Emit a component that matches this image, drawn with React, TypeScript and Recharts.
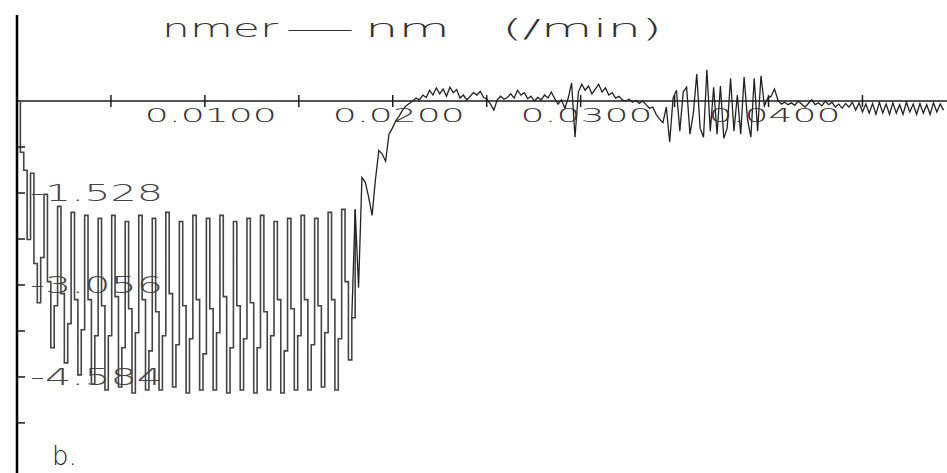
import React from 'react';
import { LineChart, Line, XAxis, YAxis, ReferenceLine, ReferenceDot } from 'recharts';

// trace is sampled at a fixed interval (s)
const SAMPLE_DT = 0.00018;

// start-up: first drop and growing oscillation
const onsetValues = [
  0, -0.85, -1.15, -2.3, -1.2, -2.7, -3.35, -2.6,
  -1.55, -3.0, -4.1, -3.4, -1.75, -3.2, -4.35, -3.7,
  -1.85, -3.3, -4.55, -3.8, -1.9, -3.3, -4.7, -3.9,
];

// steady limit cycle (top, step down, bottom, step up)
const cycleValues = [
  -1.95, -3.4, -4.8, -3.9,
  -1.9, -3.25, -4.75, -4.1,
  -2.0, -3.45, -4.85, -3.85,
  -1.9, -3.3, -4.8, -4.15,
  -1.95, -3.5, -4.8, -3.9,
  -1.85, -3.2, -4.75, -4.05,
  -2.0, -3.4, -4.85, -3.95,
  -1.9, -3.3, -4.8, -4.2,
  -1.95, -3.45, -4.8, -3.85,
  -1.9, -3.25, -4.85, -4.1,
  -2.0, -3.4, -4.8, -3.95,
  -1.95, -3.35, -4.85, -4.1,
  -1.9, -3.5, -4.8, -3.9,
  -2.0, -3.3, -4.85, -4.15,
  -1.95, -3.45, -4.8, -3.9,
  -1.9, -3.3, -4.8, -4.05,
  -1.95, -3.4, -4.75, -3.85,
  -1.85, -3.3, -4.8, -3.95,
  -1.8, -3.0, -4.3, -3.6,
];

// climb back to zero
const recoveryValues = [
  -1.8, -3.1, -1.27, -1.35, -1.6, -1.9, -1.3, -0.82, -0.88,
  -1.0, -0.55, -0.45, -0.33, -0.25, -0.15, -0.08, -0.04, 0.0,
];

// small noise around zero
const settleValues = [
  0.05, 0.02, 0.1, 0.06, 0.18, 0.1, 0.22, 0.12, 0.2, 0.08,
  0.23, 0.14, 0.19, 0.05, 0.1, 0.02, 0.08, 0.14, 0.1, 0.16,
  0.06, 0.03, -0.05, -0.15, 0.02, 0.08, 0.03, 0.06, 0.12, 0.05,
  0.18, 0.1, 0.14, 0.04, 0.08, 0.0, 0.06, 0.02, 0.1, 0.05,
  0.15, 0.04, -0.05, 0.02, -0.12, 0.05, 0.3, -0.6, 0.15, 0.28,
  0.18, 0.25, 0.12, 0.2, 0.28, 0.15, 0.22, 0.1, 0.14, 0.05,
  0.08, 0.02, 0.0, 0.03, -0.02, 0.01, -0.04, 0.0, -0.06, -0.12,
  -0.1, -0.22, -0.3, -0.36,
];

// second burst
const burstValues = [
  -0.1, -0.68, 0.05, 0.18, -0.5, 0.15, 0.23, -0.55, -0.2, 0.45,
  -0.45, -0.6, 0.52, -0.5, 0.23, -0.55, 0.25, -0.62, -0.45, 0.38,
  -0.5, 0.1, -0.55, 0.4, -0.3, -0.6, 0.38, -0.5, 0.42, -0.08,
];

// tail ripple
const tailValues = [
  0.05, 0.08, 0.2, 0.02, -0.05, -0.02, -0.06, -0.03, -0.07, 0.0,
  -0.05, -0.1, -0.04, 0.02, -0.06, -0.03, -0.08, 0.0, -0.06, -0.02,
  -0.1, -0.05, -0.12, -0.04, -0.1, -0.02, -0.15, -0.03, -0.18, -0.05,
  -0.2, -0.04, -0.22, -0.02, -0.2, -0.05, -0.22, -0.03, -0.2, -0.06,
  -0.22, -0.02, -0.18, -0.05, -0.22, -0.04, -0.2, -0.06, -0.22, -0.03,
  -0.18, -0.05, -0.15,
];

const xTickValues = [0.005, 0.01, 0.015, 0.02, 0.025, 0.03, 0.035, 0.04, 0.045];
const xLabelValues = [0.01, 0.02, 0.03, 0.04];
const yTickValues = [-0.764, -1.528, -2.292, -3.056, -3.82, -4.584, -5.348];
const yLabelValues = [-1.528, -3.056, -4.584];

const stepped = [...onsetValues, ...cycleValues];
const allValues = [...stepped, ...recoveryValues, ...settleValues, ...burstValues, ...tailValues];

const data = allValues.map((v, k) => ({
  t: k * SAMPLE_DT,
  cycle: k <= stepped.length ? v : null,
  rest: k >= stepped.length - 1 ? v : null,
}));

const ink = '#1a1a1a';

const YTick = (props: any) => {
  const { x, y, payload } = props;
  const major = yLabelValues.includes(payload.value);
  return (
    <g>
      <line x1={x} x2={x + 8} y1={y} y2={y} stroke={ink} strokeWidth={1.5} />
      {major && (
        <text
          x={x + 13}
          y={y + 8}
          fontFamily="DejaVu Sans"
          fontWeight={200}
          fontSize={23}
          fill="#444"
          textLength={133}
          lengthAdjust="spacingAndGlyphs"
        >
          {payload.value.toFixed(3)}
        </text>
      )}
    </g>
  );
};

const XTick = ({ cx, cy, value }: any) => (
  <g>
    <line x1={cx} x2={cx} y1={cy - 6} y2={cy + 6} stroke={ink} strokeWidth={1.5} />
    {xLabelValues.includes(value) && (
      <text
        x={cx - 60}
        y={cy + 21}
        fontFamily="DejaVu Sans"
        fontWeight={200}
        fontSize={19}
        fill="#333"
        textLength={132}
        lengthAdjust="spacingAndGlyphs"
      >
        {value.toFixed(4)}
      </text>
    )}
  </g>
);

export default function App() {
  return (
    <div style={{ position: 'absolute', left: 0, top: 0, width: 947, height: 473, background: '#fff' }}>
      <LineChart width={947} height={473} data={data} margin={{ top: 15, right: 0, left: 15, bottom: 0 }}>
        <XAxis dataKey="t" type="number" domain={[0, 0.0495]} hide allowDataOverflow />
        <YAxis
          type="number"
          domain={[-6.18, 1.43]}
          allowDataOverflow
          width={2}
          ticks={yTickValues}
          interval={0}
          tickSize={0}
          tickMargin={0}
          tickLine={false}
          axisLine={{ stroke: '#000', strokeWidth: 2.5 }}
          tick={<YTick />}
        />
        <ReferenceLine y={0} stroke={ink} strokeWidth={1.6} />
        {xTickValues.map((v) => (
          <ReferenceDot key={v} x={v} y={0} r={0} shape={(p: any) => <XTick {...p} value={v} />} />
        ))}
        <Line
          type="stepAfter"
          dataKey="cycle"
          stroke="#444"
          strokeWidth={1.6}
          dot={false}
          isAnimationActive={false}
        />
        <Line
          type="linear"
          dataKey="rest"
          stroke="#222"
          strokeWidth={1.3}
          dot={false}
          isAnimationActive={false}
        />
      </LineChart>
      <svg width={947} height={473} style={{ position: 'absolute', left: 0, top: 0, pointerEvents: 'none' }}>
        <text fontFamily="DejaVu Sans" fontWeight={200} fontSize={24} fill="#333" y={37}>
          <tspan x={162} textLength={116} lengthAdjust="spacingAndGlyphs">nmer</tspan>
          <tspan x={285} textLength={70} lengthAdjust="spacingAndGlyphs">—</tspan>
          <tspan x={365} textLength={85} lengthAdjust="spacingAndGlyphs">nm</tspan>
          <tspan x={502} textLength={160} lengthAdjust="spacingAndGlyphs">(/min)</tspan>
        </text>
        <text x={52} y={465} fontFamily="DejaVu Sans" fontWeight={200} fontSize={26} fill="#222">
          b.
        </text>
      </svg>
    </div>
  );
}
